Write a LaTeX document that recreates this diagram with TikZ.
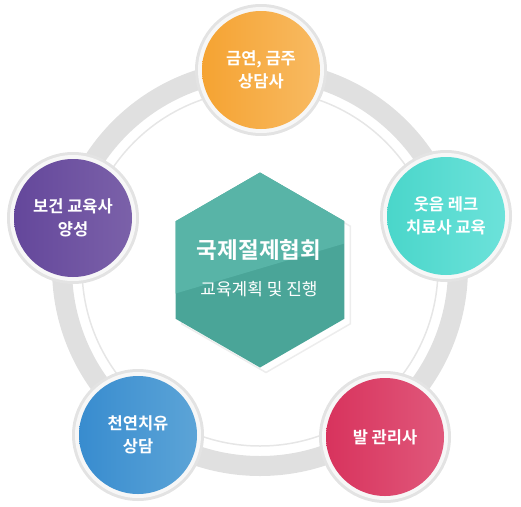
\documentclass[tikz,border=0pt]{standalone}
\usepackage{fontspec}
\newfontfamily\kr[BoldFont={Noto Sans CJK KR Bold}]{Noto Sans CJK KR}
\usetikzlibrary{shapes.geometric}
\definecolor{ringgray}{HTML}{E0E0E0}
\definecolor{linegray}{HTML}{E6E6E6}
\definecolor{rimgray}{HTML}{E3E3E3}
\definecolor{rimwhite}{HTML}{F7F7F7}
\definecolor{hexlight}{HTML}{58B4A7}
\definecolor{hexdark}{HTML}{4AA598}
\definecolor{orA}{HTML}{F5A332}
\definecolor{orB}{HTML}{F8BA62}
\definecolor{puA}{HTML}{64479B}
\definecolor{puB}{HTML}{7B61A9}
\definecolor{teA}{HTML}{4AD6CA}
\definecolor{teB}{HTML}{6CE2DA}
\definecolor{blA}{HTML}{388CCF}
\definecolor{blB}{HTML}{5CA4D7}
\definecolor{reA}{HTML}{D8335D}
\definecolor{reB}{HTML}{E0587B}
\tikzset{
  bubble/.style={circle, minimum size=118pt, inner sep=0pt, align=center,
    text=white, font=\kr\bfseries\fontsize{16.5}{23}\selectfont,
    preaction={draw=rimgray, line width=14pt},
    preaction={draw=rimwhite, line width=8pt}},
  hexbox/.style={regular polygon, regular polygon sides=6, shape border rotate=30,
    minimum size=195pt, inner sep=0pt},
  ringband/.style={draw=ringgray, line width=20pt},
  ringline/.style={draw=linegray, line width=1.5pt},
  titletext/.style={text=white, font=\kr\bfseries\fontsize{22.5}{26}\selectfont},
  subtext/.style={text=white, font=\kr\fontsize{17}{20}\selectfont}
}
\begin{document}
\begin{tikzpicture}[x=1pt,y=-1pt]
\useasboundingbox (0,0) rectangle (521,506);
\coordinate (ctr) at (260,268);
\path[ringband] (ctr) circle (198);
\path[ringline] (ctr) circle (178);
% hexagon with white backing
\node[hexbox, fill=white, draw=black!7, line width=1.5pt] (hexback) at (266,275) {};
\node[hexbox, fill=hexdark,
  path picture={\fill[hexlight] (path picture bounding box.north west) -- (path picture bounding box.north east) -- ([yshift=-71pt]path picture bounding box.north east) -- ([yshift=-121pt]path picture bounding box.north west) -- cycle;}]
  (hex) at (260,270) {};
\node[titletext] (title) at (259,250) {국제절제협회};
\node[subtext] (sub) at (259,289) {교육계획 및 진행};
% bubbles
\node[bubble, left color=orA, right color=orB] (top) at (261,70) {금연, 금주\\상담사};
\node[bubble, left color=puA, right color=puB] (left) at (73,218) {보건 교육사\\양성};
\node[bubble, left color=teA, right color=teB] (right) at (446,216) {웃음 레크\\치료사 교육};
\node[bubble, left color=blA, right color=blB] (bl) at (138,435) {천연치유\\상담};
\node[bubble, left color=reA, right color=reB] (br) at (385,437) {발 관리사};
\end{tikzpicture}
\end{document}
